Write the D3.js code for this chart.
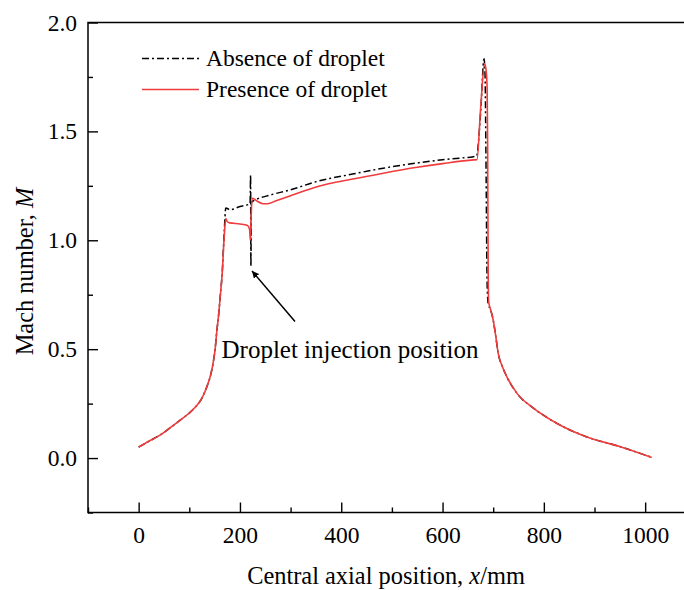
<!DOCTYPE html>
<html>
<head>
<meta charset="utf-8">
<script src="https://cdn.jsdelivr.net/npm/d3@7"></script>
<style>
    body { margin: 0; background: #fff; }
    svg, svg text { font-family: "Liberation Serif", "Times New Roman", Times, serif; }
</style>
</head>
<body>
<div id="chart"></div>
<script>

// axial position (mm) and Mach number
let absenceX = [0, 20, 42, 60, 82, 100, 112, 125, 135, 142, 147, 151, 154, 158, 161, 165, 169, 172, 176, 180, 200, 220, 221, 221.6, 222.6, 230, 260, 300, 352, 420, 483, 550, 600, 661, 667, 675, 682, 684, 686, 688, 690, 695, 700, 705, 710, 718, 727, 747, 780, 826, 885, 951, 1013];
let absenceM = [0.05, 0.077, 0.105, 0.135, 0.174, 0.207, 0.234, 0.275, 0.33, 0.38, 0.436, 0.5, 0.575, 0.66, 0.74, 0.85, 1.04, 1.148, 1.145, 1.14, 1.155, 1.168, 1.30, 0.88, 1.175, 1.185, 1.208, 1.232, 1.27, 1.303, 1.331, 1.355, 1.37, 1.384, 1.386, 1.58, 1.834, 1.75, 1.3, 0.8, 0.71, 0.68, 0.634, 0.56, 0.48, 0.42, 0.373, 0.297, 0.228, 0.159, 0.097, 0.052, 0.003];

let presenceX = [0, 20, 42, 60, 82, 100, 112, 125, 135, 142, 147, 151, 154, 158, 161, 165, 169, 172, 175, 180, 200, 215, 219, 220.5, 222, 224, 228, 235, 245, 255, 270, 300, 352, 420, 483, 550, 600, 661, 668, 675, 683, 686, 688, 689, 690, 691, 695, 700, 705, 710, 718, 727, 747, 780, 826, 885, 951, 1013];
let presenceM = [0.05, 0.077, 0.105, 0.135, 0.174, 0.207, 0.234, 0.275, 0.33, 0.38, 0.436, 0.5, 0.575, 0.66, 0.74, 0.85, 1.02, 1.10, 1.085, 1.08, 1.075, 1.068, 1.05, 1.0, 1.10, 1.193, 1.19, 1.178, 1.168, 1.168, 1.18, 1.205, 1.246, 1.28, 1.308, 1.335, 1.352, 1.369, 1.37, 1.6, 1.81, 1.78, 1.70, 1.45, 0.9, 0.72, 0.68, 0.634, 0.56, 0.48, 0.42, 0.373, 0.297, 0.228, 0.159, 0.097, 0.052, 0.003];

let xMajorTicks = [0, 200, 400, 600, 800, 1000];
let xMinorTicks = [-100, 100, 300, 500, 700, 900, 1100];
let yMajorTicks = [0, 0.5, 1.0, 1.5, 2.0];
let yMinorTicks = [-0.25, 0.25, 0.75, 1.25, 1.75];

let legendLabels = ["Absence of droplet", "Presence of droplet"];

let width = 684, height = 590;
let margin = {top: 22.5, left: 88, bottom: 512.5, right: 695.8};
let fontFamily = "'Liberation Serif', 'Times New Roman', Times, serif";

let svg = d3.select("#chart").append("svg")
    .attr("width", width)
    .attr("height", height)
    .style("font-family", fontFamily);

// scales
let x = d3.scaleLinear().domain([-100, 1100]).range([margin.left, margin.right]);
let y = d3.scaleLinear().domain([-0.25, 2.0]).range([margin.bottom, margin.top]);

// axes, ticks pointing inward
svg.append("g")
    .attr("transform", `translate(0, ${margin.bottom})`)
    .call(d3.axisBottom(x).tickValues(xMajorTicks).tickSize(-10).tickPadding(14).tickFormat(d3.format("d")));
svg.append("g")
    .attr("transform", `translate(0, ${margin.bottom})`)
    .call(d3.axisBottom(x).tickValues(xMinorTicks).tickSize(-5).tickFormat(""));

svg.append("g")
    .attr("transform", `translate(${margin.left}, 0)`)
    .call(d3.axisLeft(y).tickValues(yMajorTicks).tickSize(-10).tickPadding(11).tickFormat(d3.format(".1f")));
svg.append("g")
    .attr("transform", `translate(${margin.left}, 0)`)
    .call(d3.axisLeft(y).tickValues(yMinorTicks).tickSize(-5).tickFormat(""));

svg.selectAll("g").attr("font-family", null).style("font-family", fontFamily);
svg.selectAll(".domain").remove();
svg.selectAll(".tick line").attr("stroke", "#000").attr("stroke-width", 1.4);
svg.selectAll(".tick text")
    .style("font-family", fontFamily)
    .style("font-size", "23.5px")
    .attr("fill", "#000");

// frame
svg.append("rect")
    .attr("x", margin.left)
    .attr("y", margin.top)
    .attr("width", margin.right - margin.left)
    .attr("height", margin.bottom - margin.top)
    .attr("fill", "none")
    .attr("stroke", "#000")
    .attr("stroke-width", 1.5);

// lines
let line = d3.line()
    .x(d => x(d[0]))
    .y(d => y(d[1]))
    .curve(d3.curveMonotoneX);

let absence = absenceX.map((d, i) => [d, absenceM[i]]);
let presence = presenceX.map((d, i) => [d, presenceM[i]]);

svg.append("path")
    .datum(absence)
    .attr("d", line)
    .attr("fill", "none")
    .attr("stroke", "#000")
    .attr("stroke-width", 1.5)
    .attr("stroke-dasharray", "7,3,2,3");

svg.append("path")
    .datum(presence)
    .attr("d", line)
    .attr("fill", "none")
    .attr("stroke", "#f03c3c")
    .attr("stroke-width", 1.6);

// legend
let legend = svg.append("g");
legendLabels.forEach((label, i) => {
    let ly = 58.5 + i * 31;
    legend.append("line")
        .attr("x1", 142).attr("x2", 199)
        .attr("y1", ly).attr("y2", ly)
        .attr("stroke", i === 0 ? "#000" : "#f03c3c")
        .attr("stroke-width", 1.5)
        .attr("stroke-dasharray", i === 0 ? "7,3,2,3" : null);
    legend.append("text")
        .attr("x", 206)
        .attr("y", ly + 7.5)
        .style("font-size", "23.5px")
        .text(label);
});

// annotation arrow
svg.append("defs").append("marker")
    .attr("id", "arrow")
    .attr("viewBox", "0 0 10 10")
    .attr("refX", 10).attr("refY", 5)
    .attr("markerWidth", 7).attr("markerHeight", 7)
    .attr("markerUnits", "userSpaceOnUse")
    .attr("orient", "auto")
    .append("path")
    .attr("d", "M0,0 L10,5 L0,10 z")
    .attr("fill", "#000");

svg.append("line")
    .attr("x1", 295).attr("y1", 321.5)
    .attr("x2", 252).attr("y2", 271)
    .attr("stroke", "#000")
    .attr("stroke-width", 1.5)
    .attr("marker-end", "url(#arrow)");

svg.append("text")
    .attr("x", 221.5)
    .attr("y", 358)
    .style("font-size", "25px")
    .text("Droplet injection position");

// axis titles
let yTitle = svg.append("text")
    .attr("transform", `translate(33, ${(margin.top + margin.bottom) / 2 + 4}) rotate(-90)`)
    .attr("text-anchor", "middle")
    .style("font-size", "24.4px");
yTitle.append("tspan").text("Mach number, ");
yTitle.append("tspan").attr("font-style", "italic").text("M");

let xTitle = svg.append("text")
    .attr("x", 386)
    .attr("y", 584)
    .attr("text-anchor", "middle")
    .style("font-size", "24.4px");
xTitle.append("tspan").text("Central axial position, ");
xTitle.append("tspan").attr("font-style", "italic").text("x");
xTitle.append("tspan").text("/mm");

</script>
</body>
</html>
